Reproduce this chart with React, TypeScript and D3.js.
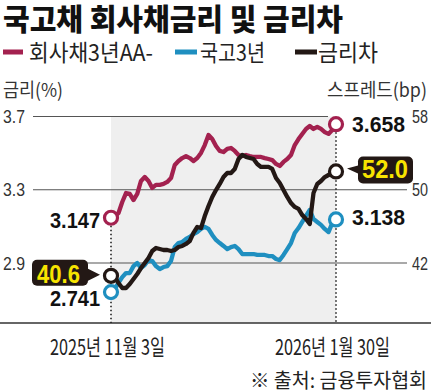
import React from "react";
import * as d3 from "d3";

const startLabel = "2025년 11월 3일";
const endLabel = "2026년 1월 30일";

// 회사채3년AA- (%)
const corpRate = [
  3.147, 3.157, 3.173, 3.233, 3.282, 3.277, 3.244, 3.277, 3.348, 3.37,
  3.348, 3.31, 3.327, 3.327, 3.332, 3.343, 3.364, 3.435, 3.457, 3.473,
  3.484, 3.473, 3.457, 3.473, 3.501, 3.544, 3.599, 3.577, 3.539, 3.512,
  3.506, 3.523, 3.528, 3.512, 3.49, 3.484, 3.49, 3.484, 3.479, 3.479,
  3.479, 3.473, 3.468, 3.462, 3.441, 3.43, 3.452, 3.468, 3.49, 3.544,
  3.577, 3.605, 3.632, 3.648, 3.632, 3.643, 3.632, 3.615, 3.605, 3.626,
  3.658,
];

// 국고3년 (%)
const govRate = [
  2.741, 2.758, 2.791, 2.823, 2.845, 2.845, 2.883, 2.9, 2.873, 2.889,
  2.916, 2.911, 2.883, 2.867, 2.878, 2.883, 2.911, 2.987, 3.009, 3.015,
  3.031, 3.042, 3.058, 3.069, 3.086, 3.097, 3.086, 3.053, 3.026, 3.009,
  2.993, 2.976, 2.987, 2.993, 2.976, 2.949, 2.949, 2.949, 2.949, 2.944,
  2.944, 2.944, 2.938, 2.938, 2.922, 2.916, 2.944, 2.976, 3.009, 3.064,
  3.091, 3.124, 3.157, 3.19, 3.14, 3.124, 3.108, 3.086, 3.069, 3.118,
  3.138,
];

// 금리차 (bp)
const spread = [
  40.6, 40.47, 39.81, 39.27, 39.27, 39.7, 40.25, 40.8, 41.45, 42.0,
  42.55, 43.31, 43.64, 43.53, 43.42, 43.42, 43.31, 43.42, 43.75, 43.86,
  44.08, 44.4, 45.28, 45.93, 45.82, 47.13, 48.23, 49.21, 49.97, 50.63,
  51.39, 51.83, 51.83, 52.27, 53.36, 53.8, 53.58, 53.47, 53.36, 52.81,
  52.49, 52.49, 52.49, 52.27, 51.28, 50.74, 49.97, 49.21, 48.55, 48.12,
  47.9, 47.24, 46.8, 46.26, 49.64, 50.63, 50.96, 51.39, 51.61, 51.83,
  52.0,
];

const leftTicks = [3.7, 3.3, 2.9];
const rightTicks = [58, 50, 42];

const RED = "#a3214f";
const BLUE = "#1f8fc0";
const BLACK = "#231815";
const KR = "'Noto Sans CJK KR', 'Noto Sans', sans-serif";
const NUM = "'Liberation Sans', Arial, sans-serif";

export default function App() {
  const n = corpRate.length;
  const x = d3.scaleLinear().domain([0, n - 1]).range([111, 336]);
  const yL = d3.scaleLinear().domain([2.9, 3.7]).range([263, 116.5]);
  const yR = d3.scaleLinear().domain([42, 58]).range([263, 116.5]);

  const lineL = d3
    .line<number>()
    .x((_, i) => x(i))
    .y((d) => yL(d))
    .curve(d3.curveLinear);
  const lineR = d3
    .line<number>()
    .x((_, i) => x(i))
    .y((d) => yR(d))
    .curve(d3.curveLinear);

  const x0 = x(0);
  const x1 = x(n - 1);
  const baseY = 323;

  const endCorpY = yL(corpRate[n - 1]);
  const endGovY = yL(govRate[n - 1]);
  const endSpY = yR(spread[n - 1]);
  const stCorpY = yL(corpRate[0]);
  const stGovY = yL(govRate[0]);
  const stSpY = yR(spread[0]);

  return (
    <svg
      width={431}
      height={391}
      style={{ position: "absolute", left: 0, top: 0, background: "#fff" }}
    >
      {/* title */}
      <text
        x={3}
        y={30}
        fontFamily={KR}
        fontWeight={900}
        fontSize={30}
        fill="#111"
        textLength={340}
        lengthAdjust="spacingAndGlyphs"
      >
        국고채 회사채금리 및 금리차
      </text>

      {/* legend */}
      <rect x={3} y={49.5} width={20} height={5} fill={RED} />
      <text x={29} y={61} fontFamily={KR} fontSize={23} fill="#222" textLength={124} lengthAdjust="spacingAndGlyphs">
        회사채3년AA-
      </text>
      <rect x={175} y={49.5} width={22} height={5} fill={BLUE} />
      <text x={200} y={61} fontFamily={KR} fontSize={23} fill="#222" textLength={65} lengthAdjust="spacingAndGlyphs">
        국고3년
      </text>
      <rect x={295} y={49.5} width={22} height={5} fill={BLACK} />
      <text x={318} y={61} fontFamily={KR} fontSize={23} fill="#222" textLength={60} lengthAdjust="spacingAndGlyphs">
        금리차
      </text>

      {/* axis titles */}
      <text x={3} y={97} fontFamily={KR} fontSize={19} fill="#333" textLength={60} lengthAdjust="spacingAndGlyphs">
        금리(%)
      </text>
      <text x={427} y={97} textAnchor="end" fontFamily={KR} fontSize={19} fill="#333" textLength={100} lengthAdjust="spacingAndGlyphs">
        스프레드(bp)
      </text>

      {/* shaded period */}
      <rect x={x0} y={116.5} width={x1 - x0} height={baseY - 116.5} fill="#efefef" />

      {/* grid lines */}
      {leftTicks.map((t, i) => (
        <line
          key={"g" + t}
          x1={33}
          x2={i === 0 ? 328 : 407}
          y1={yL(t)}
          y2={yL(t)}
          stroke="#555"
          strokeWidth={1.2}
        />
      ))}
      {leftTicks.map((t) => (
        <text
          key={"l" + t}
          x={3}
          y={yL(t) + 6.5}
          fontFamily={NUM}
          fontSize={18}
          fill="#333"
          textLength={22}
          lengthAdjust="spacingAndGlyphs"
        >
          {t.toFixed(1)}
        </text>
      ))}
      {rightTicks.map((t) => (
        <text
          key={"r" + t}
          x={428}
          y={yR(t) + 6.5}
          textAnchor="end"
          fontFamily={NUM}
          fontSize={18}
          fill="#333"
          textLength={16}
          lengthAdjust="spacingAndGlyphs"
        >
          {t}
        </text>
      ))}

      {/* baseline axis */}
      <line x1={0} x2={431} y1={baseY} y2={baseY} stroke="#333" strokeWidth={1.4} />

      {/* dotted markers */}
      <line x1={x0} x2={x0} y1={stCorpY + 8} y2={baseY} stroke="#222" strokeWidth={1.6} strokeDasharray="1.5 2.5" />
      <line x1={x1} x2={x1} y1={endCorpY + 8} y2={baseY} stroke="#222" strokeWidth={1.6} strokeDasharray="1.5 2.5" />

      {/* series */}
      <path d={lineL(govRate) || ""} fill="none" stroke={BLUE} strokeWidth={4.3} strokeLinejoin="round" />
      <path d={lineL(corpRate) || ""} fill="none" stroke={RED} strokeWidth={4.3} strokeLinejoin="round" />
      <path d={lineR(spread) || ""} fill="none" stroke={BLACK} strokeWidth={4.3} strokeLinejoin="round" />

      {/* end point circles */}
      {[
        [x0, stCorpY, RED],
        [x0, stSpY, BLACK],
        [x0, stGovY, BLUE],
        [x1, endCorpY, RED],
        [x1, endSpY, BLACK],
        [x1, endGovY, BLUE],
      ].map(([cx, cy, c], i) => (
        <circle key={"c" + i} cx={cx as number} cy={cy as number} r={6.5} fill="#fff" stroke={c as string} strokeWidth={3.2} />
      ))}

      {/* value labels */}
      <text x={100} y={stCorpY + 10} textAnchor="end" fontFamily={NUM} fontWeight={700} fontSize={22} fill="#111" textLength={50} lengthAdjust="spacingAndGlyphs">
        {corpRate[0].toFixed(3)}
      </text>
      <text x={100} y={stGovY + 14} textAnchor="end" fontFamily={NUM} fontWeight={700} fontSize={22} fill="#111" textLength={50} lengthAdjust="spacingAndGlyphs">
        {govRate[0].toFixed(3)}
      </text>
      <text x={352} y={endCorpY + 8} fontFamily={NUM} fontWeight={700} fontSize={22} fill="#111" textLength={53} lengthAdjust="spacingAndGlyphs">
        {corpRate[n - 1].toFixed(3)}
      </text>
      <text x={352} y={endGovY + 6} fontFamily={NUM} fontWeight={700} fontSize={22} fill="#111" textLength={53} lengthAdjust="spacingAndGlyphs">
        {govRate[n - 1].toFixed(3)}
      </text>

      {/* spread callouts */}
      <g>
        <rect x={32} y={stSpY - 16} width={56} height={26} rx={5} fill={BLACK} />
        <path d={`M88,${stSpY - 7} L100,${stSpY - 1} L88,${stSpY + 5} Z`} fill={BLACK} />
        <text x={37} y={stSpY + 7} fontFamily={NUM} fontWeight={700} fontSize={25} fill="#f7e400" textLength={43} lengthAdjust="spacingAndGlyphs">
          {spread[0].toFixed(1)}
        </text>
      </g>
      <g>
        <rect x={358} y={endSpY - 15} width={55} height={27} rx={5} fill={BLACK} />
        <path d={`M358,${endSpY - 6} L347,${endSpY - 3} L358,${endSpY + 2} Z`} fill={BLACK} />
        <text x={362} y={endSpY + 7} fontFamily={NUM} fontWeight={700} fontSize={25} fill="#f7e400" textLength={46} lengthAdjust="spacingAndGlyphs">
          {spread[n - 1].toFixed(1)}
        </text>
      </g>

      {/* x labels */}
      <text x={50} y={355} fontFamily={KR} fontSize={22} fill="#222" textLength={115} lengthAdjust="spacingAndGlyphs">
        {startLabel}
      </text>
      <text x={275} y={355} fontFamily={KR} fontSize={22} fill="#222" textLength={115} lengthAdjust="spacingAndGlyphs">
        {endLabel}
      </text>

      {/* source */}
      <text x={427} y={388} textAnchor="end" fontFamily={KR} fontSize={20} fill="#222" textLength={177} lengthAdjust="spacingAndGlyphs">
        ※ 출처: 금융투자협회
      </text>
    </svg>
  );
}
